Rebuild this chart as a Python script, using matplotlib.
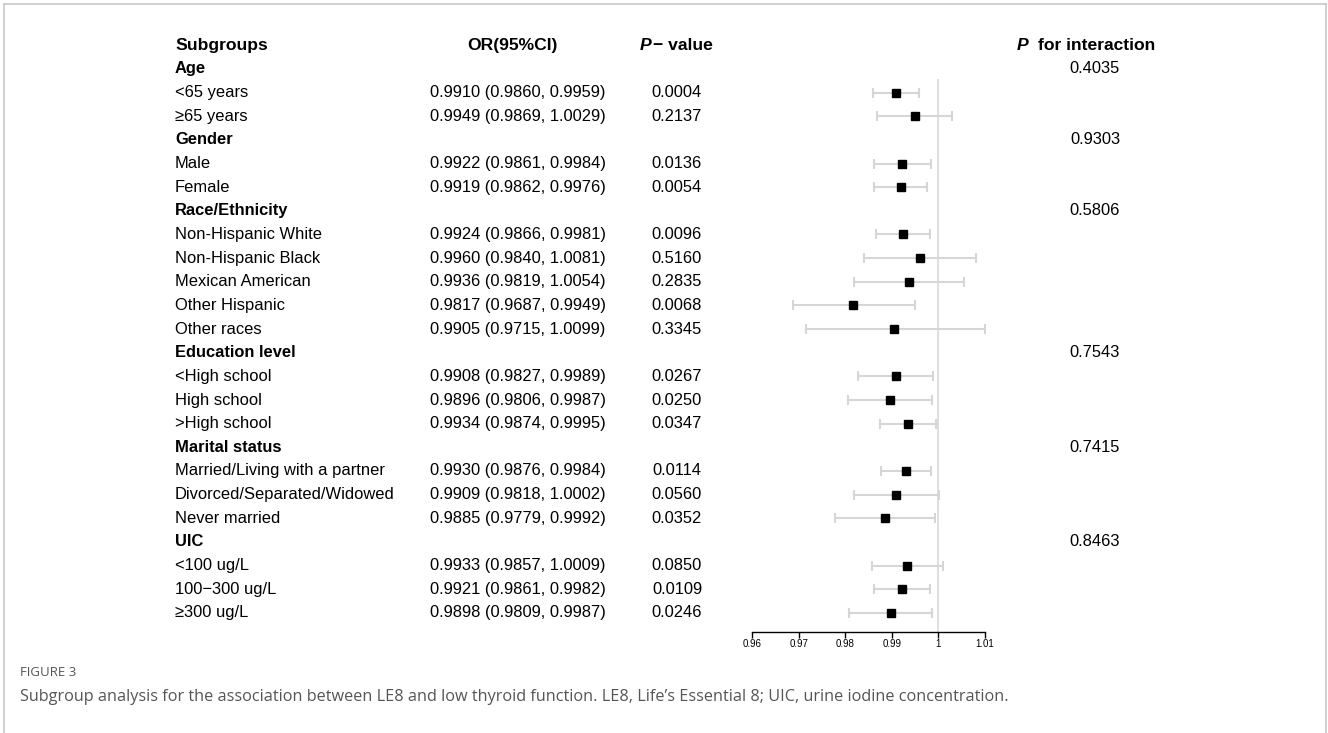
import matplotlib.pyplot as plt
from matplotlib.transforms import blended_transform_factory
from matplotlib.lines import Line2D

# rows of the table (None = group heading)
labels = ["Age", "<65 years", "≥65 years",
          "Gender", "Male", "Female",
          "Race/Ethnicity", "Non-Hispanic White", "Non-Hispanic Black",
          "Mexican American", "Other Hispanic", "Other races",
          "Education level", "<High school", "High school", ">High school",
          "Marital status", "Married/Living with a partner",
          "Divorced/Separated/Widowed", "Never married",
          "UIC", "<100 ug/L", "100\u2212300 ug/L", "≥300 ug/L"]
is_head = [True, False, False, True, False, False, True, False, False, False,
           False, False, True, False, False, False, True, False, False, False,
           True, False, False, False]
odds = [None, 0.9910, 0.9949, None, 0.9922, 0.9919, None, 0.9924, 0.9960,
        0.9936, 0.9817, 0.9905, None, 0.9908, 0.9896, 0.9934, None, 0.9930,
        0.9909, 0.9885, None, 0.9933, 0.9921, 0.9898]
lower = [None, 0.9860, 0.9869, None, 0.9861, 0.9862, None, 0.9866, 0.9840,
         0.9819, 0.9687, 0.9715, None, 0.9827, 0.9806, 0.9874, None, 0.9876,
         0.9818, 0.9779, None, 0.9857, 0.9861, 0.9809]
upper = [None, 0.9959, 1.0029, None, 0.9984, 0.9976, None, 0.9981, 1.0081,
         1.0054, 0.9949, 1.0099, None, 0.9989, 0.9987, 0.9995, None, 0.9984,
         1.0002, 0.9992, None, 1.0009, 0.9982, 0.9987]
pvals = ["", "0.0004", "0.2137", "", "0.0136", "0.0054", "", "0.0096", "0.5160",
         "0.2835", "0.0068", "0.3345", "", "0.0267", "0.0250", "0.0347", "",
         "0.0114", "0.0560", "0.0352", "", "0.0850", "0.0109", "0.0246"]
p_inter = ["0.4035", "", "", "0.9303", "", "", "0.5806", "", "", "", "", "",
           "0.7543", "", "", "", "0.7415", "", "", "", "0.8463", "", "", ""]
xticks = [0.96, 0.97, 0.98, 0.99, 1.0, 1.01]
xticklabels = ["0.96", "0.97", "0.98", "0.99", "1", "1.01"]

W, H = 1328, 733
fig = plt.figure(figsize=(W / 100, H / 100), dpi=100)
plt.rcParams['font.family'] = ['Liberation Sans', 'DejaVu Sans']

# forest axes: x 0.96 at px 752, 1.01 at px 985; row 0 (header) at px 45.3, step 23.65
step = 23.65
top_px, bot_px = 33, 632
ax = fig.add_axes([752 / W, 1 - bot_px / H, 233 / W, (bot_px - top_px) / H])
ax.set_xlim(0.96, 1.01)
ax.set_ylim((bot_px - 45.3) / step, (top_px - 45.3) / step)
for s in ["top", "right", "left"]:
    ax.spines[s].set_visible(False)
ax.spines["bottom"].set_linewidth(1.0)
ax.set_yticks([])
ax.set_xticks(xticks)
ax.set_xticklabels(xticklabels, fontsize=7)
ax.tick_params(axis="x", length=4, width=1, pad=1)
ax.patch.set_alpha(0)

ax.plot([1, 1], [1.45, (bot_px - 45.3) / step], color="#dcdcdc", lw=1.3, zorder=1)

for i, lab in enumerate(labels):
    r = i + 1
    if odds[i] is not None:
        ax.errorbar(odds[i], r, xerr=[[odds[i] - lower[i]], [upper[i] - odds[i]]],
                    fmt="none", ecolor="#d6d6d6", elinewidth=1.5, capsize=3.5,
                    capthick=1.5, zorder=2)
        ax.plot(odds[i], r, marker="s", color="black", markersize=6, zorder=3)

tr = blended_transform_factory(fig.transFigure, ax.transData)
fs = 11.9
hs = 12.6  # header row a bit larger
ax.text(175 / W, 0, "Subgroups", transform=tr, fontsize=hs, fontweight="bold",
        va="center", ha="left")
ax.text(512 / W, 0, "OR(95%CI)", transform=tr, fontsize=hs, fontweight="bold",
        va="center", ha="center")
ax.text(640 / W, 0, "P", transform=tr, fontsize=hs, fontweight="bold",
        style="italic", va="center", ha="left")
ax.text(653 / W, 0, "\u2212 value", transform=tr, fontsize=hs, fontweight="bold",
        va="center", ha="left")
ax.text(1017 / W, 0, "P", transform=tr, fontsize=hs, fontweight="bold",
        style="italic", va="center", ha="left")
ax.text(1038 / W, 0, "for interaction", transform=tr, fontsize=hs,
        fontweight="bold", va="center", ha="left")

for i, lab in enumerate(labels):
    r = i + 1
    ax.text(175 / W, r, lab, transform=tr, fontsize=fs,
            fontweight="bold" if is_head[i] else "normal", va="center", ha="left")
    if odds[i] is not None:
        ax.text(518 / W, r, f"{odds[i]:.4f} ({lower[i]:.4f}, {upper[i]:.4f})",
                transform=tr, fontsize=fs, va="center", ha="center")
        ax.text(677 / W, r, pvals[i], transform=tr, fontsize=fs,
                va="center", ha="center")
    if p_inter[i]:
        ax.text(1095 / W, r, p_inter[i], transform=tr, fontsize=fs,
                va="center", ha="center")

# caption
fig.text(20 / W, 1 - 673 / H, "FIGURE 3", fontsize=9.5, color="#555555",
         family=["Open Sans", "DejaVu Sans"], va="center", ha="left")
fig.text(20 / W, 1 - 697 / H,
         "Subgroup analysis for the association between LE8 and low thyroid "
         "function. LE8, Life\u2019s Essential 8; UIC, urine iodine concentration.",
         fontsize=11.7, color="#555555", family=["Open Sans", "DejaVu Sans"],
         va="center", ha="left")

# light frame
for xs, ys in [([4, 1326], [4, 4]), ([4, 4], [4, H]), ([1326, 1326], [4, H])]:
    fig.add_artist(Line2D([x / W for x in xs], [1 - y / H for y in ys],
                          color="#c8c8c8", lw=1.2))

fig.savefig("out.png", dpi=100)
